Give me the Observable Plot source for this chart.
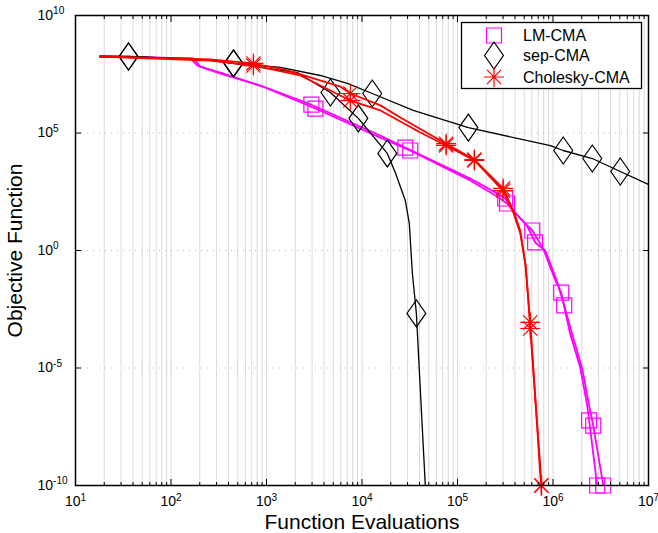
<!DOCTYPE html>
<html><head><meta charset="utf-8">
<script src="https://cdn.jsdelivr.net/npm/d3@7"></script>
<script src="https://cdn.jsdelivr.net/npm/@observablehq/plot@0.6"></script>
<style>
body{margin:0;background:#fff;font-family:"Liberation Sans",Arial,sans-serif;}
#wrap{position:relative;width:658px;height:533px;}
</style></head><body><div id="wrap"></div>
<script>
// ---------- data ----------
const seriesNames = ["LM-CMA", "sep-CMA", "Cholesky-CMA"];
const seriesColors = ["#ff00ff", "#000000", "#ff0000"];

const lmRun1 = [[18,1.8e8],[160,1.5e8],[189,7.4e7],[306,3.7e7],[863,1.05e7],[2950,1.6e6],[1.55e4,7.8e4],[2.84e4,2.4e4],[1.36e5,1150],[2.6e5,270],[3.16e5,163],[3.8e5,50],[5.4e5,11.5],[6.07e5,7.1],[7.9e5,1.2],[1.06e6,0.052],[1.22e6,0.016],[1.5e6,3.2e-4],[1.93e6,1.05e-5],[2.28e6,2.5e-7],[2.39e6,5.9e-8],[2.9e6,1e-10]];
const lmRun1Marks = [[2950,1.6e6],[2.84e4,2.4e4],[3.16e5,163],[6.07e5,7.1],[1.22e6,0.016],[2.39e6,5.9e-8],[2.9e6,1e-10]];
const lmRun2 = [[18,1.8e8],[172,1.48e8],[203,6.7e7],[330,3.7e7],[906,9.5e6],[3250,1.1e6],[1.55e4,6.4e4],[3.2e4,1.8e4],[1.36e5,960],[2.6e5,200],[3.3e5,100],[4.0e5,42],[5.4e5,10.5],[6.5e5,2.2],[8.3e5,1],[1.11e6,0.044],[1.31e6,4.6e-3],[1.59e6,2.7e-4],[2.02e6,9.5e-6],[2.39e6,2.5e-7],[2.64e6,3.5e-8],[3.36e6,1e-10]];
const lmRun2Marks = [[3250,1.1e6],[3.2e4,1.8e4],[3.3e5,100],[6.5e5,2.2],[1.31e6,4.6e-3],[2.64e6,3.5e-8],[3.36e6,1e-10]];

const sepRun1 = [[18,1.8e8],[35.9,1.8e8],[259,1.23e8],[451,9.1e7],[1400,6.2e7],[3660,2.8e7],[7030,1.3e7],[1.28e4,4.8e6],[3.44e4,9.1e5],[1.3e5,1.7e5],[9.4e5,2.9e4],[1.28e6,1.8e4],[2.58e6,8200],[5.06e6,2300],[1e7,650]];
const sepRun1Marks = [[35.9,1.8e8],[451,9.1e7],[1.28e4,4.8e6],[1.3e5,1.7e5],[1.28e6,1.8e4],[2.58e6,8200],[5.06e6,2300]];
const sepRun2 = [[18,1.8e8],[35.9,1.8e8],[259,1.3e8],[451,9.1e7],[2100,3.7e7],[4670,5.3e6],[9160,4.2e5],[1.84e4,1.35e4],[2.23e4,2100],[2.84e4,135],[3.13e4,14],[3.37e4,0.105],[3.71e4,2.1e-3],[4.6e4,1e-10]];
const sepRun2Marks = [[35.9,1.8e8],[451,9.1e7],[4670,5.3e6],[9160,4.2e5],[1.84e4,1.35e4],[3.71e4,2.1e-3]];

const cholRun1 = [[18,1.8e8],[259,1.35e8],[730,9.1e7],[1660,4.6e7],[5930,9.5e6],[7550,4.8e6],[1.56e4,1.5e6],[2.52e4,4.6e5],[7.6e4,3.5e4],[1.5e5,7400],[3.0e5,440],[3.84e5,50],[4.54e5,7.1],[5.13e5,0.28],[5.78e5,8.7e-4],[7.5e5,1e-10]];
const cholRun1Marks = [[730,9.1e7],[7550,4.8e6],[7.6e4,3.5e4],[1.5e5,7400],[3.0e5,440],[5.78e5,8.7e-4],[7.5e5,1e-10]];
const cholRun2 = [[18,1.8e8],[259,1.2e8],[730,7.4e7],[2260,2.8e7],[7550,2.4e6],[1.56e4,9.1e5],[4.08e4,1.05e5],[7.6e4,2.95e4],[1.5e5,6800],[3.0e5,355],[3.84e5,42],[4.54e5,5.5],[5.2e5,0.2],[5.78e5,4.8e-4],[7.6e5,1e-10]];
const cholRun2Marks = [[730,7.4e7],[7550,2.4e6],[7.6e4,2.95e4],[1.5e5,6800],[3.0e5,355],[5.78e5,4.8e-4],[7.6e5,1e-10]];

const xMajor = [1e1,1e2,1e3,1e4,1e5,1e6,1e7];
const yMajor = [1e-10,1e-5,1e0,1e5,1e10];
const xTitle = "Function Evaluations";
const yTitle = "Objective Function";

// ---------- helpers ----------
const xMinor = [];
for (let e = 1; e < 7; e++) for (let k = 2; k <= 9; k++) xMinor.push(k * Math.pow(10, e));
const xGrid = xMajor.slice(1, -1).concat(xMinor);
const fmt = d => "10^" + Math.round(Math.log10(d));

const rad = s => Math.sqrt(s / Math.PI);
const squareSym = {draw(c, s) { const q = rad(s); c.rect(-q, -q, 2*q, 2*q); }};
const diamondSym = {draw(c, s) { const q = rad(s), w = q * 0.7; c.moveTo(0, -q); c.lineTo(w, 0); c.lineTo(0, q); c.lineTo(-w, 0); c.closePath(); }};
const starSym = {draw(c, s) { const q = rad(s), d = q * Math.SQRT1_2;
  c.moveTo(-q, 0); c.lineTo(q, 0); c.moveTo(0, -q); c.lineTo(0, q);
  c.moveTo(-d, -d); c.lineTo(d, d); c.moveTo(-d, d); c.lineTo(d, -d); }};

const series = [
  {name: seriesNames[0], color: seriesColors[0], runs: [lmRun1, lmRun2], marks: [lmRun1Marks, lmRun2Marks], sym: squareSym, r: 7.5, lw: 1.8},
  {name: seriesNames[1], color: seriesColors[1], runs: [sepRun1, sepRun2], marks: [sepRun1Marks, sepRun2Marks], sym: diamondSym, r: 13.5, lw: 1.3},
  {name: seriesNames[2], color: seriesColors[2], runs: [cholRun1, cholRun2], marks: [cholRun1Marks, cholRun2Marks], sym: starSym, r: 10, lw: 1.8}
];
const toRows = (arr, run) => arr.map(([x, y]) => ({x, y, run}));

const dataMarks = [];
for (const s of series) {
  const lr = s.runs.flatMap((a, i) => toRows(a, s.name + i));
  const mr = s.marks.flatMap((a, i) => toRows(a, s.name + i));
  dataMarks.push(Plot.line(lr, {x: "x", y: "y", z: "run", stroke: s.color, strokeWidth: s.lw, clip: "frame"}));
  dataMarks.push(Plot.dot(mr, {x: "x", y: "y", symbol: s.sym, r: s.r, stroke: s.color, fill: "none", strokeWidth: 1.2}));
}

const blank = () => "";
const chart = Plot.plot({
  width: 658, height: 533,
  marginLeft: 75, marginRight: 10, marginTop: 15, marginBottom: 48,
  x: {type: "log", domain: [1e1, 1e7]},
  y: {type: "log", domain: [1e-10, 1e10]},
  style: {fontFamily: '"Liberation Sans", Arial, sans-serif', background: "white", color: "black"},
  marks: [
    Plot.ruleX(xGrid, {stroke: "#dadada", strokeWidth: 1}),
    Plot.ruleY([1e5, 1e0, 1e-5], {stroke: "#b8b8b8", strokeDasharray: "1,5", strokeWidth: 1}),
    ...dataMarks,
    Plot.axisX(xMajor, {anchor: "bottom", tickSize: -6, tickFormat: blank, label: null}),
    Plot.axisX(xMinor, {anchor: "bottom", tickSize: -3, tickFormat: blank, label: null}),
    Plot.axisX(xMajor, {anchor: "top", tickSize: -6, tickFormat: blank, label: null}),
    Plot.axisX(xMinor, {anchor: "top", tickSize: -3, tickFormat: blank, label: null}),
    Plot.axisY(yMajor, {anchor: "left", tickSize: -6, tickFormat: blank, label: null}),
    Plot.axisY(yMajor, {anchor: "right", tickSize: -6, tickFormat: blank, label: null}),
    Plot.axisX(xMajor, {anchor: "bottom", tickSize: 0, tickPadding: 11, tickFormat: fmt, fontSize: 14, label: null}),
    Plot.axisY(yMajor, {anchor: "left", tickSize: 0, tickPadding: 38, textAnchor: "start", tickFormat: fmt, fontSize: 14, label: null}),
    Plot.text([xTitle], {frameAnchor: "bottom", dy: 29, lineAnchor: "top", textAnchor: "middle", fontSize: 21, text: d => d}),
    Plot.text([yTitle], {frameAnchor: "left", dx: -68, lineAnchor: "top", textAnchor: "middle", rotate: -90, fontSize: 21, text: d => d}),
    Plot.frame({stroke: "black", strokeWidth: 1.5})
  ]
});

// superscript exponents in tick labels
const NS = "http://www.w3.org/2000/svg";
chart.querySelectorAll("text").forEach(t => {
  const m = t.textContent.match(/^10\^(-?\d+)$/);
  if (m) {
    t.textContent = "10";
    const ts = document.createElementNS(NS, "tspan");
    ts.setAttribute("dy", "-0.55em");
    ts.setAttribute("font-size", "0.72em");
    ts.textContent = m[1];
    t.appendChild(ts);
  }
});
const wrap = document.getElementById("wrap");
wrap.appendChild(chart);

// legend (overlay box, top right inside the plot)
const leg = d3.select(wrap).append("svg")
  .attr("width", 183).attr("height", 69)
  .style("position", "absolute").style("left", "460px").style("top", "21px");
leg.append("rect").attr("x", 1.5).attr("y", 1.5).attr("width", 180).attr("height", 66)
  .attr("fill", "white").attr("stroke", "black").attr("stroke-width", 1.3);
const rowY = [14.5, 34.5, 56];
series.forEach((s, i) => {
  leg.append("path")
    .attr("transform", `translate(34,${rowY[i]})`)
    .attr("d", d3.symbol(s.sym, s.r * s.r * Math.PI)())
    .attr("fill", "none").attr("stroke", s.color).attr("stroke-width", 1.2);
  leg.append("text").attr("x", 63).attr("y", rowY[i]).attr("dy", "0.36em")
    .attr("font-size", 16).attr("fill", "black")
    .attr("font-family", '"Liberation Sans", Arial, sans-serif')
    .text(s.name);
});
</script></body></html>
